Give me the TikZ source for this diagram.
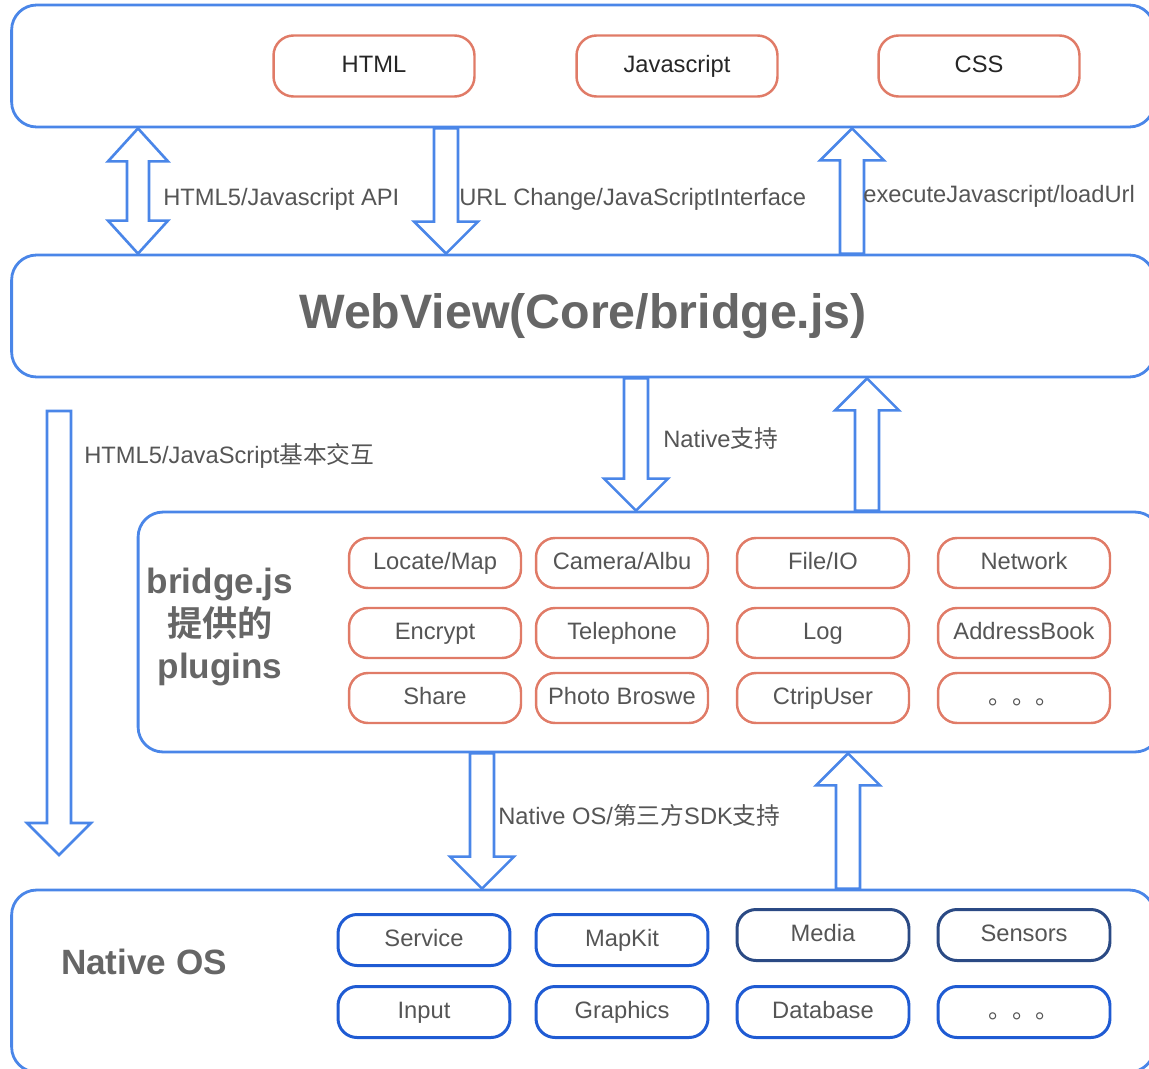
\documentclass[tikz,border=0pt]{standalone}
\usepackage{fontspec}
\setmainfont{Liberation Sans}
\newfontfamily\cjk{Noto Sans CJK SC}[BoldFont={Noto Sans CJK SC Bold}]
\usetikzlibrary{calc}

\definecolor{frameblue}{HTML}{4A86E8}
\definecolor{pluginred}{HTML}{E07B67}
\definecolor{osblue}{HTML}{1F5BD3}
\definecolor{osnavy}{HTML}{2B4A84}
\definecolor{labelgray}{HTML}{555555}
\definecolor{titlegray}{HTML}{666666}

\tikzset{
    layer/.style={draw=frameblue, line width=1.6pt, rounded corners=0.5cm,
        minimum width=22.86cm, minimum height=2.44cm},
    webbox/.style={draw=pluginred, line width=1.4pt, rounded corners=0.4cm,
        minimum width=4.02cm, minimum height=1.22cm, text=black!85,
        text height=10pt, text depth=3pt,
        font=\fontsize{13.5}{16}\selectfont},
    plugin/.style={draw=pluginred, line width=1.4pt, rounded corners=0.38cm,
        minimum width=3.44cm, minimum height=1cm, text=labelgray,
        text height=10pt, text depth=3pt,
        font=\fontsize{13.5}{16}\selectfont},
    osbox/.style={draw=osblue, line width=1.7pt, rounded corners=0.38cm,
        minimum width=3.44cm, minimum height=1.02cm, text=labelgray,
        text height=10pt, text depth=3pt,
        font=\fontsize{13.5}{16}\selectfont},
    lbl/.style={anchor=west, inner sep=0pt, text=labelgray,
        font=\fontsize{13.5}{16}\selectfont},
    title/.style={align=center, text=titlegray, font=\fontsize{20}{24}\selectfont\bfseries},
    fatarrow/.style={draw=frameblue, line width=1.5pt, to path={
        ($(\tikztostart)+(-12,0)$) -- ($(\tikztotarget)+(-12,#1)$)
        -- ($(\tikztotarget)+(-32,#1)$) -- (\tikztotarget)
        -- ($(\tikztotarget)+(32,#1)$) -- ($(\tikztotarget)+(12,#1)$)
        -- ($(\tikztostart)+(12,0)$) -- cycle}},
    fatboth/.style={draw=frameblue, line width=1.5pt, to path={
        (\tikztostart) -- ($(\tikztostart)+(30,33)$) -- ($(\tikztostart)+(11,33)$)
        -- ($(\tikztotarget)+(11,-33)$) -- ($(\tikztotarget)+(30,-33)$)
        -- (\tikztotarget) -- ($(\tikztotarget)+(-30,-33)$)
        -- ($(\tikztotarget)+(-11,-33)$) -- ($(\tikztostart)+(-11,33)$)
        -- ($(\tikztostart)+(-30,33)$) -- cycle}},
}

\begin{document}
\begin{tikzpicture}[x=0.02cm, y=-0.02cm]
\useasboundingbox (0,0) rectangle (1149,1068);
\clip (0,0) rectangle (1149,1068);

% Page layer
\node (page) [layer] at (583,66) {};
\node (html) [webbox] at (374,66) {HTML};
\node (js) [webbox] at (677,66) {Javascript};
\node (css) [webbox] at (979,66) {CSS};

% WebView layer
\node (webview) [layer,
    text=titlegray,
    font=\fontsize{27.5}{32}\selectfont\bfseries
] at (583,316) {WebView(Core/bridge.js)};

% bridge.js plugins
\node (bridge) [layer,
    minimum width=20.44cm,
    minimum height=4.8cm
] at (649,632) {};
\node (bridgetitle) [title] at (220,627) {bridge.js\\{\cjk\bfseries 提供的}\\plugins};

\node (locate) [plugin] at (435,563) {Locate/Map};
\node (camera) [plugin] at (622,563) {Camera/Albu};
\node (fileio) [plugin] at (823,563) {File/IO};
\node (network) [plugin] at (1024,563) {Network};
\node (encrypt) [plugin] at (435,633) {Encrypt};
\node (phone) [plugin] at (622,633) {Telephone};
\node (log) [plugin] at (823,633) {Log};
\node (address) [plugin] at (1024,633) {AddressBook};
\node (share) [plugin] at (435,698) {Share};
\node (photo) [plugin] at (622,698) {Photo Broswe};
\node (ctrip) [plugin] at (823,698) {CtripUser};
\node (moreplug) [plugin] at (1024,698) {\cjk 。。。};

% Native OS
\node (nativeos) [layer,
    minimum height=3.64cm
] at (583,981) {};
\node (ostitle) [title] at (144,962) {Native OS};

\node (service) [osbox] at (424,940) {Service};
\node (mapkit) [osbox] at (622,940) {MapKit};
\node (media) [osbox, draw=osnavy] at (823,935) {Media};
\node (sensors) [osbox, draw=osnavy] at (1024,935) {Sensors};
\node (input) [osbox] at (424,1012) {Input};
\node (graphics) [osbox] at (622,1012) {Graphics};
\node (database) [osbox] at (823,1012) {Database};
\node (moreos) [osbox] at (1024,1012) {\cjk 。。。};

% arrow columns
\coordinate (apicol) at (138,0);
\coordinate (urlcol) at (446,0);
\coordinate (execcol) at (852,0);
\coordinate (supportcol) at (636,0);
\coordinate (backcol) at (867,0);
\coordinate (sdkcol) at (482,0);
\coordinate (oscol) at (848,0);
\coordinate (basetop) at (59,411);
\coordinate (basetip) at (59,855);

% page <-> webview
\draw [fatboth] (page.south -| apicol) to (webview.north -| apicol);
\draw [fatarrow=-32] (page.south -| urlcol) to (webview.north -| urlcol);
\draw [fatarrow=32] (webview.north -| execcol) to (page.south -| execcol);
\node (apilbl) [lbl] at (163,199) {HTML5/Javascript API};
\node (urllbl) [lbl] at (459,199) {URL Change/JavaScriptInterface};
\node (execlbl) [lbl] at (863,196) {executeJavascript/loadUrl};

% webview <-> bridge
\draw [fatarrow=-32] (basetop) to (basetip);
\node (baselbl) [lbl] at (84,456) {HTML5/JavaScript{\cjk 基本交互}};
\draw [fatarrow=-32] (webview.south -| supportcol) to (bridge.north -| supportcol);
\draw [fatarrow=32] (bridge.north -| backcol) to (webview.south -| backcol);
\node (supportlbl) [lbl] at (663,438) {Native{\cjk 支持}};

% bridge <-> native os
\draw [fatarrow=-32] (bridge.south -| sdkcol) to (nativeos.north -| sdkcol);
\draw [fatarrow=32] (nativeos.north -| oscol) to (bridge.south -| oscol);
\node (sdklbl) [lbl] at (498,815) {Native OS/{\cjk 第三方}SDK{\cjk 支持}};

\end{tikzpicture}
\end{document}
